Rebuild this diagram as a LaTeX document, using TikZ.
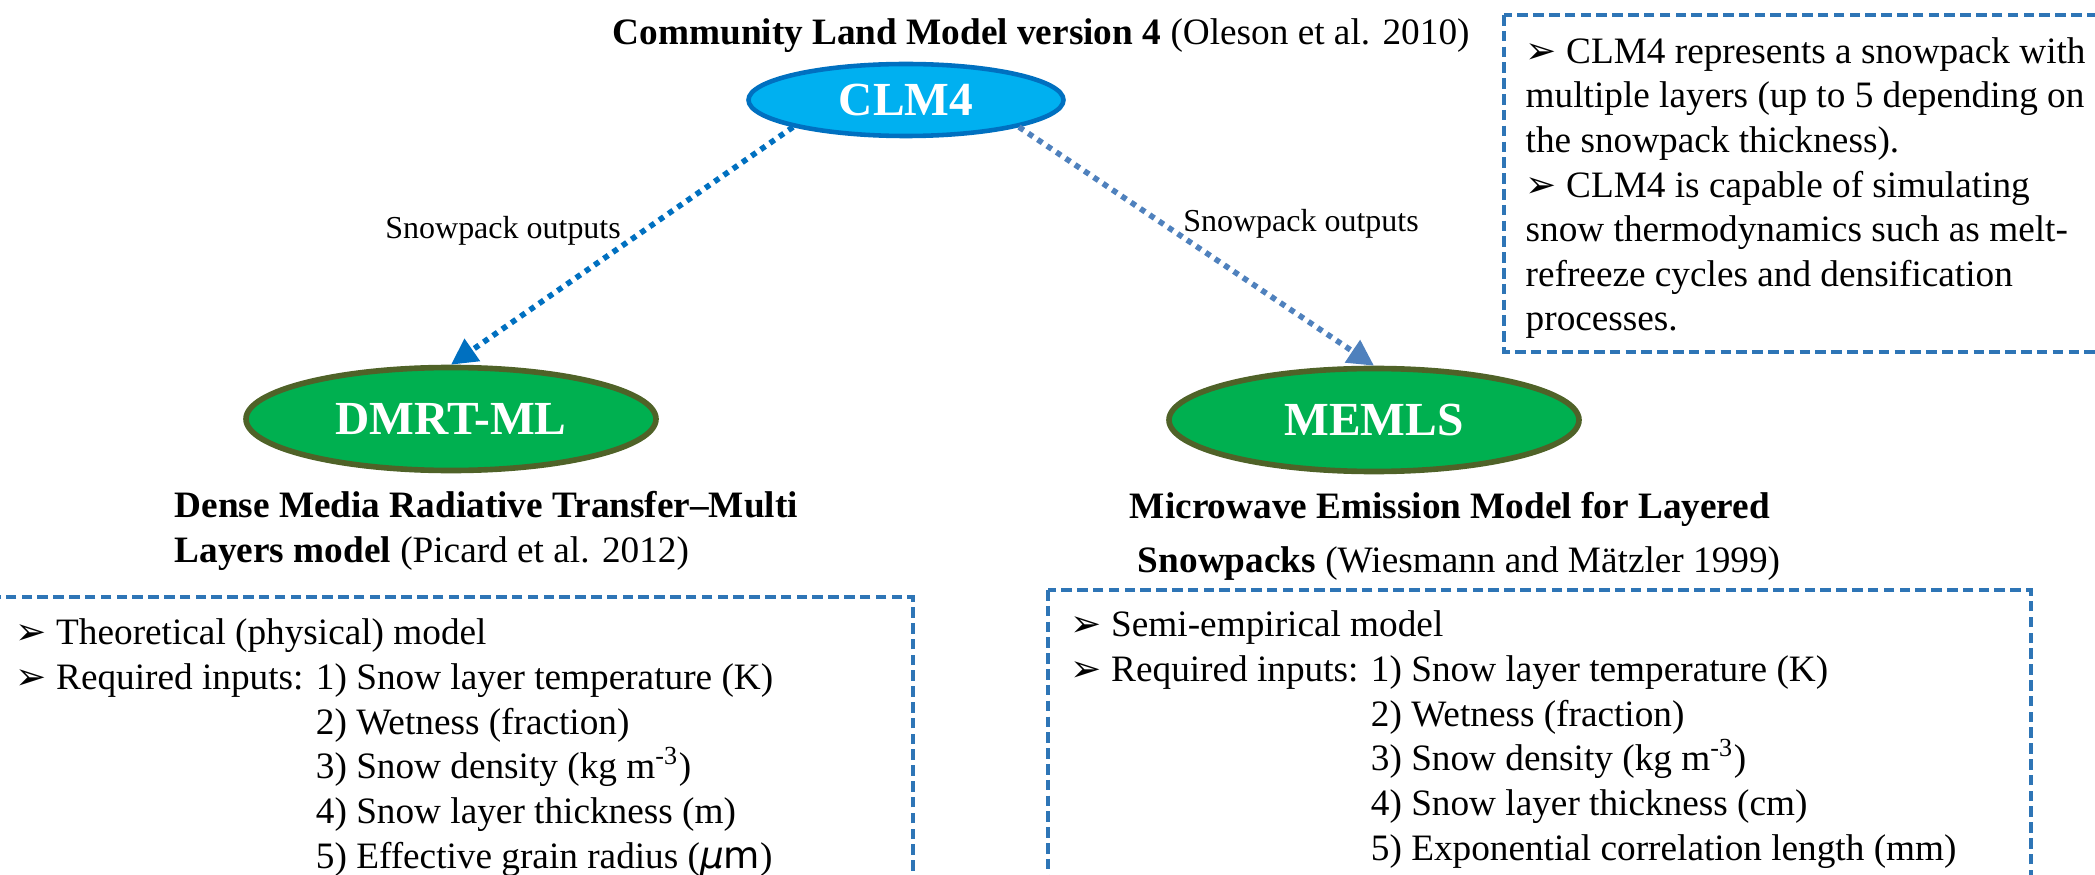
\documentclass[tikz,border=0pt]{standalone}
\usepackage{fontspec}
\setmainfont{Liberation Serif}
\newfontfamily\symfont{DejaVu Sans}
\usetikzlibrary{shapes, arrows.meta, positioning, calc}

\definecolor{clmblue}{RGB}{0,176,240}
\definecolor{clmedge}{RGB}{0,112,192}
\definecolor{memgreen}{RGB}{0,176,80}
\definecolor{memedge}{RGB}{79,98,40}
\definecolor{outleft}{RGB}{0,112,192}
\definecolor{outright}{RGB}{79,129,189}
\definecolor{boxline}{RGB}{46,117,182}

\newcommand{\pointer}{{\symfont ➢}}
\newcommand{\reqindent}{\phantom{\pointer{} Required inputs: }}

\begin{document}
\begin{tikzpicture}
  [
  % ellips
  topmodel/.style = {ellipse, draw=clmedge, line width=1.3pt, fill=clmblue,
    minimum width=3.15cm, minimum height=0.72cm, inner sep=0pt,
    text=white, font=\fontsize{13.5}{16}\selectfont\bfseries},
  rtmodel/.style = {ellipse, draw=memedge, line width=1.6pt, fill=memgreen,
    minimum width=4.1cm, minimum height=1.03cm, inner sep=0pt,
    text=white, font=\fontsize{13.5}{16}\selectfont\bfseries},
  % line
  line/.style = {draw, line width=1.6pt, dash pattern=on 1.6pt off 1.6pt,
    -{Triangle[length=0.26cm, width=0.26cm]}},
  lbl/.style = {inner sep=1pt, font=\fontsize{9.1}{11}\selectfont},
  % kotak
  infobox/.style = {draw=boxline, line width=0.9pt, dash pattern=on 3pt off 1.5pt},
  % base = baseline of the last line
  txt/.style = {inner sep=0pt, align=left, font=\fontsize{10.6}{12.7}\selectfont},
  ]

  \useasboundingbox (0,0) rectangle (20.95,-8.75);

  % kotak
  \draw [infobox] (15.04,-0.15) rectangle (21.2,-3.52);
  \draw [infobox] (-0.2,-5.97) rectangle (9.13,-9.0);
  \draw [infobox] (10.48,-5.90) rectangle (20.31,-9.0);

  % nodes
  \node [txt, anchor=base west] (title) at (6.12,-0.45)
  {\textbf{Community Land Model version 4} (Oleson et al. 2010)};
  \node [topmodel] (clm) at (9.06,-1.00) {CLM4};
  \node [rtmodel] (dmrt) at (4.51,-4.19) {DMRT-ML};
  \node [rtmodel] (memls) at (13.74,-4.20) {MEMLS};

  \node [txt, anchor=base west] (dmrtcap) at (1.74,-5.62)
  {\textbf{Dense Media Radiative Transfer--Multi}\\
    \textbf{Layers model} (Picard et al. 2012)};
  \node [txt, align=center, anchor=base] (memlscap) at (14.50,-5.72)
  {\textbf{Microwave Emission Model for Layered}\\[0.09cm]
    \hspace*{0.18cm}\textbf{Snowpacks} (Wiesmann and Mätzler 1999)};

  % tekst
  \node [txt, anchor=base west] (clmnote) at (15.25,-3.31)
  {\pointer{} CLM4 represents a snowpack with\\
    multiple layers (up to 5 depending on\\
    the snowpack thickness).\\
    \pointer{} CLM4 is capable of simulating\\
    snow thermodynamics such as melt-\\
    refreeze cycles and densification\\
    processes.};
  \node [txt, anchor=base west] (dmrtlist) at (0.15,-8.68)
  {\pointer{} Theoretical (physical) model\\
    \pointer{} Required inputs: 1) Snow layer temperature (K)\\
    \reqindent 2) Wetness (fraction)\\
    \reqindent 3) Snow density (kg m\textsuperscript{-3})\\
    \reqindent 4) Snow layer thickness (m)\\
    \reqindent 5) Effective grain radius ({\symfont\itshape μ}{\symfont m})};
  \node [txt, anchor=base west] (memlslist) at (10.70,-8.60)
  {\pointer{} Semi-empirical model\\
    \pointer{} Required inputs: 1) Snow layer temperature (K)\\
    \reqindent 2) Wetness (fraction)\\
    \reqindent 3) Snow density (kg m\textsuperscript{-3})\\
    \reqindent 4) Snow layer thickness (cm)\\
    \reqindent 5) Exponential correlation length (mm)};

  % path
  \path [line, draw=outleft] (clm.south west) -- node [lbl, pos=0.485,
  anchor=east, yshift=0.12cm] (outA) {Snowpack outputs} (dmrt.north);
  \path [line, draw=outright] (clm.south east) -- node [lbl, pos=0.445,
  anchor=west, yshift=0.09cm] (outB) {Snowpack outputs} (memls.north);

\end{tikzpicture}
\end{document}
